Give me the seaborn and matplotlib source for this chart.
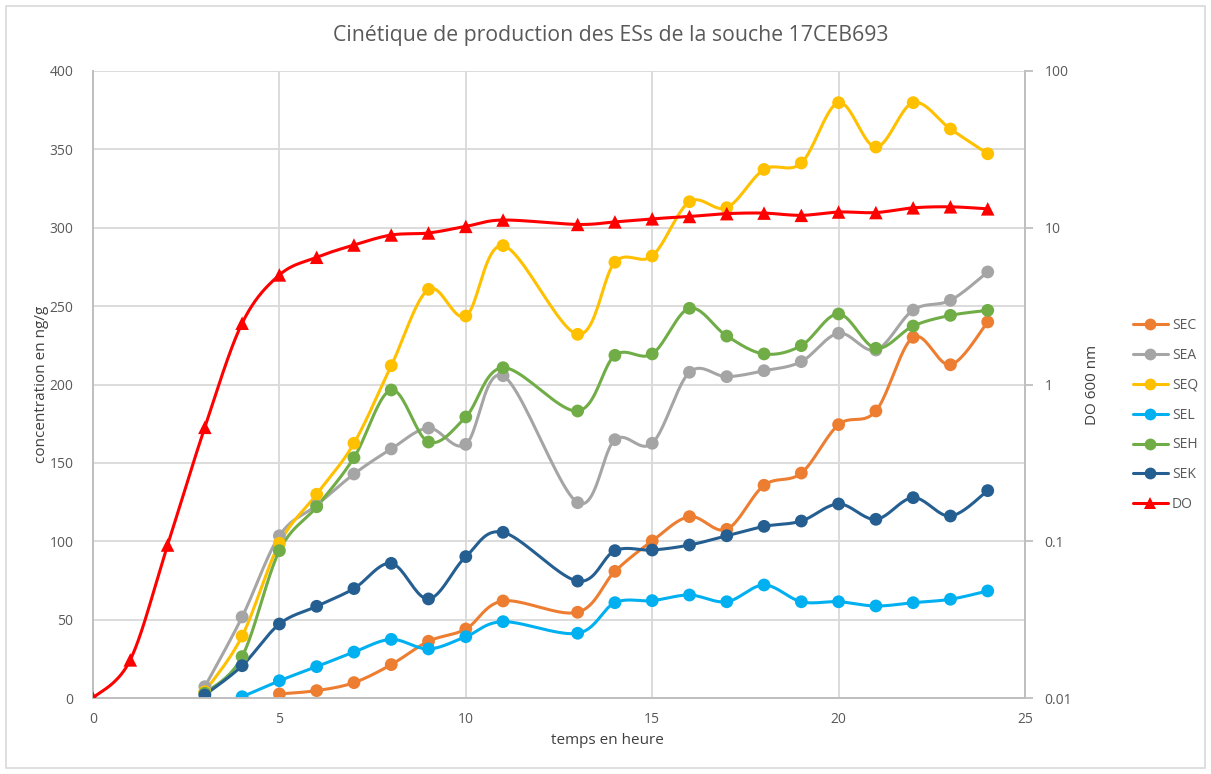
import numpy as np
import pandas as pd
import matplotlib
matplotlib.use("Agg")
import matplotlib.pyplot as plt
from matplotlib.lines import Line2D
from matplotlib.patches import Rectangle
from matplotlib.ticker import FixedLocator, FixedFormatter, NullLocator
import seaborn as sns

# Sampling times (hours)
hours_do = [0, 1, 2, 3, 4, 5, 6, 7, 8, 9, 10, 11, 13, 14, 15, 16, 17, 18, 19, 20, 21, 22, 23, 24]
hours_se = [3, 4, 5, 6, 7, 8, 9, 10, 11, 13, 14, 15, 16, 17, 18, 19, 20, 21, 22, 23, 24]
hours_sel = hours_se[1:]
hours_sec = hours_se[2:]

# Enterotoxin concentrations (ng/g)
sec = [2.6, 4.7, 9.8, 21.3, 36.2, 44.0, 61.9, 54.7, 80.8, 100.2, 115.7, 107.6, 135.7, 143.5,
       174.4, 183.1, 230.1, 212.6, 239.9]
sea = [7.2, 51.7, 103.5, 123.0, 142.9, 158.9, 172.2, 161.8, 205.6, 124.6, 164.8, 162.5, 207.8,
       205.0, 208.8, 214.6, 232.7, 222.0, 247.5, 253.7, 271.8]
seq = [4.0, 39.5, 98.7, 130.0, 162.5, 212.0, 260.7, 243.7, 288.6, 232.0, 278.0, 282.0, 316.6,
       312.8, 337.2, 341.3, 379.8, 351.5, 379.8, 363.0, 347.2]
sel = [0.8, 11.0, 20.0, 29.3, 37.4, 31.3, 39.1, 48.7, 41.3, 60.8, 62.1, 65.7, 61.4, 72.1, 61.4,
       61.4, 58.7, 60.8, 63.0, 68.3]
seh = [3.0, 26.4, 94.0, 122.0, 153.3, 196.5, 163.3, 179.3, 210.7, 183.1, 218.6, 219.5, 248.6,
       230.9, 219.5, 224.8, 245.0, 223.1, 237.3, 244.1, 247.3]
sek = [1.9, 20.6, 47.2, 58.5, 69.8, 85.9, 63.2, 90.2, 105.7, 74.6, 94.0, 94.4, 97.6, 103.5,
       109.5, 112.9, 123.8, 114.0, 127.8, 116.1, 132.3]

# Optical density at 600 nm
do600 = [0.01, 0.0175, 0.0946, 0.533, 2.46, 5.0, 6.48, 7.76, 8.99, 9.26, 10.2, 11.2, 10.5, 10.9,
         11.4, 11.8, 12.3, 12.4, 12.0, 12.6, 12.5, 13.4, 13.6, 13.2]

series_names = ["SEC", "SEA", "SEQ", "SEL", "SEH", "SEK"]
series_hours = [hours_sec, hours_se, hours_se, hours_sel, hours_se, hours_se]
series_vals = [sec, sea, seq, sel, seh, sek]
colors = {"SEC": "#ED7D31", "SEA": "#A5A5A5", "SEQ": "#FFC000", "SEL": "#00B0F0",
          "SEH": "#70AD47", "SEK": "#255E91", "DO": "#FF0000"}

frames = [pd.DataFrame({"temps": h, "conc": v, "toxine": n})
          for n, h, v in zip(series_names, series_hours, series_vals)]
df = pd.concat(frames, ignore_index=True)
df_do = pd.DataFrame({"temps": hours_do, "do": do600})


def smooth_curve(x, y, n=24):
    """Uniform Catmull-Rom path through the points (smoothed line rendering)."""
    p = np.column_stack([np.asarray(x, float), np.asarray(y, float)])
    p = np.vstack([p[0], p, p[-1]])
    t = np.linspace(0, 1, n)[:, None]
    out = []
    for i in range(1, len(p) - 2):
        p0, p1, p2, p3 = p[i - 1], p[i], p[i + 1], p[i + 2]
        seg = 0.5 * (2 * p1 + (-p0 + p2) * t + (2 * p0 - 5 * p1 + 4 * p2 - p3) * t ** 2
                     + (-p0 + 3 * p1 - 3 * p2 + p3) * t ** 3)
        out.append(seg if i == 1 else seg[1:])
    out = np.vstack(out)
    return out[:, 0], out[:, 1]


sns.set_theme(style="white")
plt.rcParams["font.family"] = ["Open Sans", "DejaVu Sans"]
text_color = "#595959"
grid_color = "#D9D9D9"

fig = plt.figure(figsize=(12.11, 7.74), dpi=100)
W, H = 1211, 774
ax = fig.add_axes([93 / W, 1 - 698 / H, (1025 - 93) / W, (698 - 71) / H])
ax2 = ax.twinx()

# Concentration series on the primary axis
for name in series_names:
    sub = df[df["toxine"] == name]
    xs, ys = smooth_curve(sub["temps"], sub["conc"])
    ax.plot(xs, ys, color=colors[name], lw=2.2, solid_capstyle="round", zorder=3)
    sns.scatterplot(data=sub, x="temps", y="conc", ax=ax, color=colors[name], s=85,
                    edgecolor="none", zorder=4, legend=False)

# Optical density on the log secondary axis
ax2.set_yscale("log")
xs, ly = smooth_curve(df_do["temps"], np.log10(df_do["do"]))
ax2.plot(xs, 10 ** ly, color=colors["DO"], lw=2.2, zorder=3)
sns.scatterplot(data=df_do, x="temps", y="do", ax=ax2, color=colors["DO"], marker="^", s=95,
                edgecolor="none", zorder=4, legend=False)

ax.set_xlim(0, 25)
ax.set_ylim(0, 400)
ax2.set_ylim(0.01, 100)

ax.set_xticks(np.arange(0, 26, 5))
ax.set_yticks(np.arange(0, 401, 50))
ax.grid(True, color=grid_color, lw=1.3)
ax.set_axisbelow(True)
ax.tick_params(axis="both", length=0, labelsize=10, labelcolor=text_color)
ax.tick_params(axis="x", pad=10)
ax.tick_params(axis="y", pad=14)

ax2.yaxis.set_major_locator(FixedLocator([0.01, 0.1, 1, 10, 100]))
ax2.yaxis.set_major_formatter(FixedFormatter(["0.01", "0.1", "1", "10", "100"]))
ax2.yaxis.set_minor_locator(NullLocator())
ax2.tick_params(axis="y", which="major", length=6, width=1.3, color="#BFBFBF",
                labelsize=10, labelcolor=text_color, pad=8)
ax2.grid(False)
ax2.set_xlabel("")
ax2.set_ylabel("DO 600 nm", fontsize=11, color="#404040")
ax2.yaxis.label.set_va("center")
ax2.yaxis.set_label_coords((1093 - 93) / 932, 0.5)

for a in (ax, ax2):
    a.spines["top"].set_visible(False)
    for s in ("left", "bottom", "right"):
        a.spines[s].set_color("#BFBFBF")
        a.spines[s].set_linewidth(1.3)

ax.set_xlabel("temps en heure", fontsize=11, color="#404040")
ax.xaxis.label.set_va("center")
ax.xaxis.set_label_coords((607 - 93) / 932, (698 - 740) / 627)
ax.set_ylabel("concentration en ng/g", fontsize=11, color="#404040")
ax.yaxis.label.set_va("center")
ax.yaxis.set_label_coords((42 - 93) / 932, (698 - 384) / 627)

fig.text(611 / W, 1 - 36 / H, "Cinétique de production des ESs de la souche 17CEB693",
         ha="center", va="center", fontsize=15.3, color=text_color)

# Legend on the right
handles = [Line2D([0], [0], color=colors[n], lw=2.2, marker="o", markersize=8.5,
                  markeredgewidth=0) for n in series_names]
handles.append(Line2D([0], [0], color=colors["DO"], lw=2.2, marker="^", markersize=9,
                      markeredgewidth=0))
fig.legend(handles, series_names + ["DO"], loc="upper left",
           bbox_to_anchor=(1133 / W, 1 - 318 / H), frameon=False, fontsize=10,
           labelcolor=text_color, handlelength=2.5, handletextpad=0.3,
           labelspacing=1.07, borderaxespad=0, borderpad=0)

# Chart area border
fig.patches.append(Rectangle((6 / W, 6 / H), 1 - 12 / W, 1 - 12 / H, transform=fig.transFigure,
                             fill=False, edgecolor="#D9D9D9", lw=1.2))

fig.savefig("out.png", dpi=100)
